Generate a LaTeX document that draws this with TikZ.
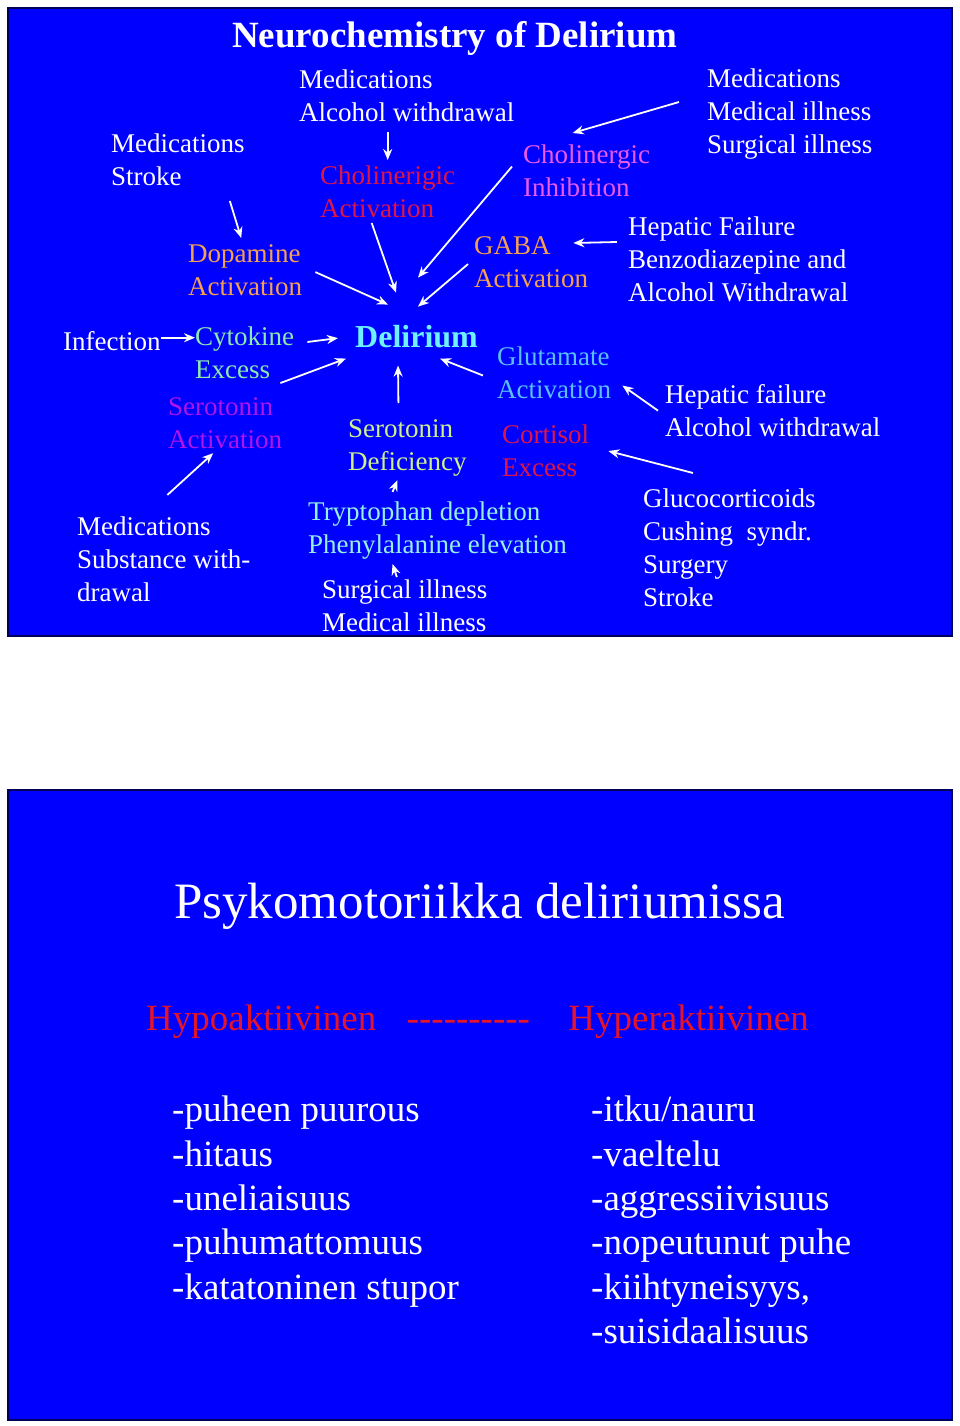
\documentclass[tikz,border=0pt]{standalone}
\usepackage{fontspec}
\setmainfont{Liberation Serif}
\usetikzlibrary{arrows.meta,positioning}

\definecolor{slideblue}{RGB}{0,0,255}
\definecolor{slideedge}{RGB}{0,0,90}
\definecolor{crimsontxt}{RGB}{222,22,70}
\definecolor{pinktxt}{RGB}{235,90,235}
\definecolor{orangetxt}{RGB}{245,160,80}
\definecolor{greentxt}{RGB}{140,235,170}
\definecolor{purpletxt}{RGB}{175,20,235}
\definecolor{cyantxt}{RGB}{110,240,255}
\definecolor{skytxt}{RGB}{90,190,250}
\definecolor{limetxt}{RGB}{205,240,140}
\definecolor{aquatxt}{RGB}{150,240,230}
\definecolor{redtxt}{RGB}{230,20,40}

\tikzset{
  panel/.style={fill=slideblue, draw=slideedge, line width=2pt},
  lbl/.style={anchor=north west, inner sep=0pt, align=left, text=white,
    font=\fontsize{27}{33}\selectfont, execute at begin node=\strut},
  big/.style={anchor=base west, inner sep=0pt, text=white,
    font=\fontsize{37}{44}\selectfont},
  lst/.style={anchor=north west, inner sep=0pt, align=left, text=white,
    font=\fontsize{37}{44.3}\selectfont, execute at begin node=\strut},
  arr/.style={->, draw=white, line width=1.8pt}
}

\begin{document}
\begin{tikzpicture}[x=1pt,y=-1pt,>={Stealth[length=11pt,width=9pt]}]

  \fill[white] (0,0) rectangle (960,1426);
  \useasboundingbox (0,0) rectangle (960,1426);
  \filldraw[panel] (8,8) rectangle (952,636);
  \filldraw[panel] (8,790) rectangle (952,1420);

  % upper slide
  \node[big, font=\fontsize{37}{44}\bfseries] (title) at (232,48) {Neurochemistry of Delirium};
  \node[big, text=cyantxt, font=\fontsize{32}{38}\bfseries] (del) at (355,347) {Delirium};

  \node[lbl] (medA)   at (299,70)  {Medications\\Alcohol withdrawal};
  \node[lbl] (medS)   at (111,134) {Medications\\Stroke};
  \node[lbl] (medR)   at (707,69)  {Medications\\Medical illness\\Surgical illness};
  \node[lbl] (hep)    at (628,217) {Hepatic Failure\\Benzodiazepine and\\Alcohol Withdrawal};
  \node[lbl] (inf)    at (63,327)  {Infection};
  \node[lbl] (medSub) at (77,517)  {Medications\\Substance with-\\drawal};
  \node[lbl] (surg)   at (322,580) {Surgical illness\\Medical illness};
  \node[lbl] (hepF)   at (665,384) {Hepatic failure\\Alcohol withdrawal};
  \node[lbl] (gluco)  at (643,489) {Glucocorticoids\\Cushing\ \ syndr.\\Surgery\\Stroke};

  \node[lbl, text=crimsontxt] (cholA) at (320,166) {Cholinerigic\\Activation};
  \node[lbl, text=pinktxt]    (cholI) at (523,145) {Cholinergic\\Inhibition};
  \node[lbl, text=orangetxt]  (dop)   at (188,244) {Dopamine\\Activation};
  \node[lbl, text=orangetxt]  (gaba)  at (474,236) {GABA\\Activation};
  \node[lbl, text=greentxt]   (cyt)   at (195,327) {Cytokine\\Excess};
  \node[lbl, text=purpletxt]  (serA)  at (168,397) {Serotonin\\Activation};
  \node[lbl, text=limetxt]    (serD)  at (348,419) {Serotonin\\Deficiency};
  \node[lbl, text=aquatxt]    (tryp)  at (308,502) {Tryptophan depletion\\Phenylalanine elevation};
  \node[lbl, text=skytxt]     (glu)   at (497,347) {Glutamate\\Activation};
  \node[lbl, text=crimsontxt] (cort)  at (502,425) {Cortisol\\Excess};

  \draw[arr] (medA.south -| cholA.north) -- ([yshift=6pt]cholA.north);
  \draw[arr] ([xshift=-15pt,yshift=-5pt]medS.south east) -- ([xshift=-4pt,yshift=6pt]dop.north);
  \draw[arr] ([xshift=-28pt,yshift=14.5pt]medR.west) -- ([xshift=-14pt,yshift=12pt]cholI.north);
  \draw[arr] ([xshift=-11pt,yshift=-25pt]hep.north west) -- ([xshift=-15pt,yshift=-7pt]gaba.north east);
  \draw[arr, transform canvas={yshift=6pt}] (inf.east) -- (inf.east -| cyt.west);
  \draw[arr] ([xshift=3.5pt,yshift=22pt]medSub.north) -- ([xshift=-12pt,yshift=5pt]serA.south);
  \draw[arr] ([xshift=-45pt,yshift=10pt]tryp.north) -- ([xshift=-10pt]serD.south);
  \draw[arr] ([xshift=-8pt,yshift=3pt]surg.north) -- ([xshift=-45pt]tryp.south);
  \draw[arr] ([xshift=-7pt,yshift=4.5pt]hepF.west) -- ([xshift=11pt,yshift=-7.5pt]glu.east);
  \draw[arr] ([xshift=50pt,yshift=16pt]gluco.north west) -- ([xshift=19pt,yshift=5pt]cort.east);

  % arrows into Delirium
  \draw[arr] ([xshift=-16pt,yshift=5pt]cholA.south) -- ([xshift=-20.5pt,yshift=32pt]del.north);
  \draw[arr] ([xshift=13pt,yshift=2.5pt]dop.east) -- ([xshift=-28.5pt,yshift=20pt]del.north);
  \draw[arr] ([xshift=-11pt,yshift=9.5pt]cholI.west) -- ([xshift=1.5pt,yshift=47pt]del.north);
  \draw[arr] ([xshift=-6pt,yshift=2.5pt]gaba.west) -- ([xshift=1.5pt,yshift=18pt]del.north);
  \draw[arr] ([xshift=13pt,yshift=-15pt]cyt.north east) -- ([xshift=-17pt,yshift=-2pt]del.west);
  \draw[arr] ([xshift=-14pt,yshift=6pt]cyt.south east) -- ([xshift=-9pt,yshift=-11pt]del.south west);
  \draw[arr] ([xshift=-9pt,yshift=16pt]serD.north) -- ([xshift=-18.5pt,yshift=-18pt]del.south);
  \draw[arr] ([xshift=-14pt,yshift=2.5pt]glu.west) -- ([xshift=-38pt,yshift=-11pt]del.south east);

  % lower slide
  \node[big, font=\fontsize{51}{60}\selectfont] (psy) at (174,918) {Psykomotoriikka deliriumissa};
  \node[big, text=redtxt] (hypo) at (146,1030) {Hypoaktiivinen};
  \node[big, text=redtxt] (dash) [base right=30pt of hypo]
    {-\kern0pt-\kern0pt-\kern0pt-\kern0pt-\kern0pt-\kern0pt-\kern0pt-\kern0pt-\kern0pt-};
  \node[big, text=redtxt] (hyper) [base right=38pt of dash] {Hyperaktiivinen};

  \node[lst] (slow) at (172,1096) {-puheen puurous\\-hitaus\\-uneliaisuus\\-puhumattomuus\\-katatoninen stupor};
  \node[lst] (fast) at (591,1096) {-itku/nauru\\-vaeltelu\\-aggressiivisuus\\-nopeutunut puhe\\-kiihtyneisyys,\\-suisidaalisuus};

\end{tikzpicture}
\end{document}
